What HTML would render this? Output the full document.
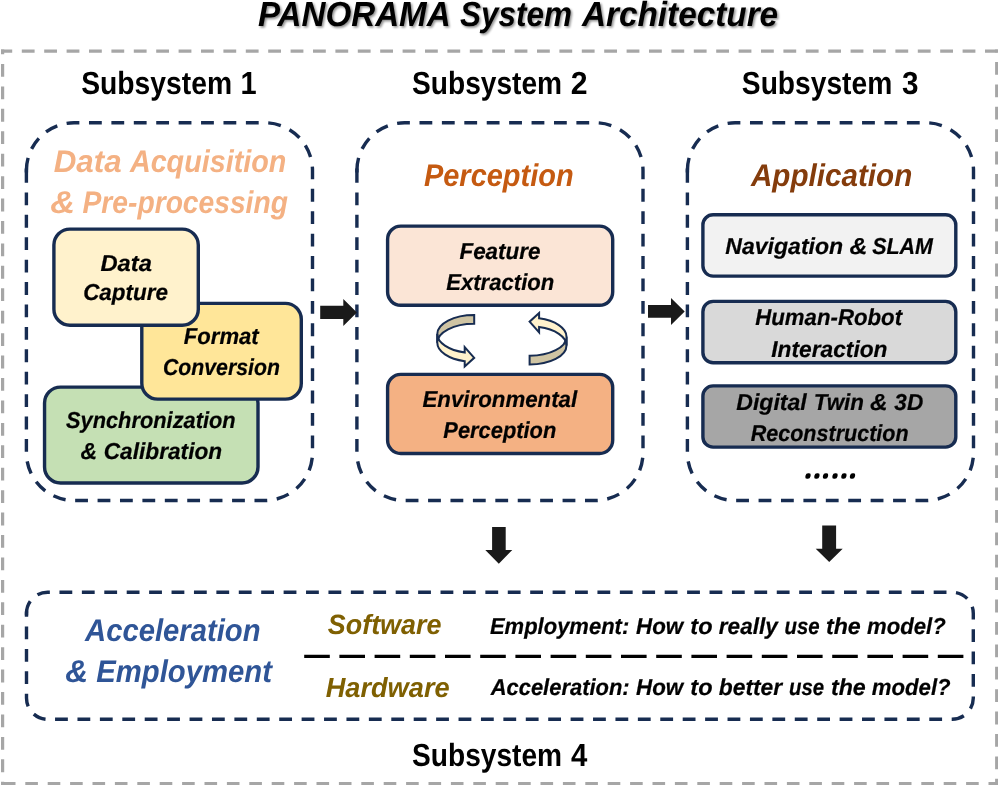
<!DOCTYPE html>
<html><head><meta charset="utf-8"><title>PANORAMA System Architecture</title>
<style>
html,body{margin:0;padding:0;background:#fff;}
body{width:998px;height:785px;overflow:hidden;font-family:"Liberation Sans",sans-serif;}
svg{display:block;}
text{font-family:"Liberation Sans",sans-serif;font-weight:bold;white-space:pre;text-rendering:geometricPrecision;}
</style></head><body>
<svg width="998" height="785" viewBox="0 0 998 785">
<defs><filter id="sh" x="-5%" y="-30%" width="110%" height="170%"><feDropShadow dx="1.6" dy="1.6" stdDeviation="1.3" flood-color="#000" flood-opacity="0.45"/></filter></defs>
<rect width="998" height="785" fill="#fff"/>
<line x1="1.0" y1="51.2" x2="999" y2="51.2" stroke="#a6a6a6" stroke-width="3.2" stroke-dasharray="12.8 9.60" stroke-dashoffset="1.60"/>
<line x1="1.0" y1="783.7" x2="999" y2="783.7" stroke="#a6a6a6" stroke-width="3.2" stroke-dasharray="12.6 9.80" stroke-dashoffset="20.50"/>
<line x1="2.6" y1="49.6" x2="2.6" y2="786" stroke="#a6a6a6" stroke-width="3.2" stroke-dasharray="12.8 9.63" stroke-dashoffset="8.03"/>
<line x1="996.7" y1="49.6" x2="996.7" y2="786" stroke="#a6a6a6" stroke-width="3.2" stroke-dasharray="12.8 9.60" stroke-dashoffset="10.00"/>
<path d="M26.40,170.48 A47.68,47.68 0 0 1 74.08,122.80 H264.82 A47.68,47.68 0 0 1 312.50,170.48 V452.82 A47.68,47.68 0 0 1 264.82,500.50 H74.08 A47.68,47.68 0 0 1 26.40,452.82 Z" fill="none" stroke="#172c51" stroke-width="3.4" stroke-dasharray="12.81 9.607"/><path d="M26.40,168.48 V172.48" fill="none" stroke="#172c51" stroke-width="3.4"/>
<path d="M356.90,170.48 A47.68,47.68 0 0 1 404.58,122.80 H595.32 A47.68,47.68 0 0 1 643.00,170.48 V452.82 A47.68,47.68 0 0 1 595.32,500.50 H404.58 A47.68,47.68 0 0 1 356.90,452.82 Z" fill="none" stroke="#172c51" stroke-width="3.4" stroke-dasharray="12.81 9.607"/><path d="M356.90,168.48 V172.48" fill="none" stroke="#172c51" stroke-width="3.4"/>
<path d="M687.40,170.48 A47.68,47.68 0 0 1 735.08,122.80 H925.82 A47.68,47.68 0 0 1 973.50,170.48 V452.82 A47.68,47.68 0 0 1 925.82,500.50 H735.08 A47.68,47.68 0 0 1 687.40,452.82 Z" fill="none" stroke="#172c51" stroke-width="3.4" stroke-dasharray="12.81 9.607"/><path d="M687.40,168.48 V172.48" fill="none" stroke="#172c51" stroke-width="3.4"/>
<path d="M26.50,613.38 A21.18,21.18 0 0 1 47.68,592.20 H952.12 A21.18,21.18 0 0 1 973.30,613.38 V698.12 A21.18,21.18 0 0 1 952.12,719.30 H47.68 A21.18,21.18 0 0 1 26.50,698.12 Z" fill="none" stroke="#172c51" stroke-width="3.4" stroke-dasharray="12.81 9.606"/><path d="M26.50,611.38 V615.38" fill="none" stroke="#172c51" stroke-width="3.4"/>
<path d="M44.55,403.08 A15.98,15.98 0 0 1 60.53,387.10 H242.02 A15.98,15.98 0 0 1 258.00,403.08 V467.02 A15.98,15.98 0 0 1 242.02,483.00 H60.53 A15.98,15.98 0 0 1 44.55,467.02 Z" fill="#c5e0b4" stroke="#172c51" stroke-width="3.4"/>
<path d="M141.80,319.35 A15.95,15.95 0 0 1 157.75,303.40 H285.35 A15.95,15.95 0 0 1 301.30,319.35 V383.15 A15.95,15.95 0 0 1 285.35,399.10 H157.75 A15.95,15.95 0 0 1 141.80,383.15 Z" fill="#ffe699" stroke="#172c51" stroke-width="3.4"/>
<path d="M53.90,245.12 A16.02,16.02 0 0 1 69.92,229.10 H182.28 A16.02,16.02 0 0 1 198.30,245.12 V309.18 A16.02,16.02 0 0 1 182.28,325.20 H69.92 A16.02,16.02 0 0 1 53.90,309.18 Z" fill="#fff2cc" stroke="#172c51" stroke-width="3.4"/>
<path d="M387.60,239.30 A13.20,13.20 0 0 1 400.80,226.10 H599.50 A13.20,13.20 0 0 1 612.70,239.30 V292.10 A13.20,13.20 0 0 1 599.50,305.30 H400.80 A13.20,13.20 0 0 1 387.60,292.10 Z" fill="#fbe5d6" stroke="#172c51" stroke-width="3.4"/>
<path d="M387.60,387.58 A13.18,13.18 0 0 1 400.78,374.40 H599.52 A13.18,13.18 0 0 1 612.70,387.58 V440.32 A13.18,13.18 0 0 1 599.52,453.50 H400.78 A13.18,13.18 0 0 1 387.60,440.32 Z" fill="#f4b183" stroke="#172c51" stroke-width="3.4"/>
<path d="M702.90,224.93 A10.23,10.23 0 0 1 713.13,214.70 H945.57 A10.23,10.23 0 0 1 955.80,224.93 V265.87 A10.23,10.23 0 0 1 945.57,276.10 H713.13 A10.23,10.23 0 0 1 702.90,265.87 Z" fill="#f2f2f2" stroke="#172c51" stroke-width="3.4"/>
<path d="M702.90,311.63 A10.23,10.23 0 0 1 713.13,301.40 H945.57 A10.23,10.23 0 0 1 955.80,311.63 V352.57 A10.23,10.23 0 0 1 945.57,362.80 H713.13 A10.23,10.23 0 0 1 702.90,352.57 Z" fill="#d9d9d9" stroke="#172c51" stroke-width="3.4"/>
<path d="M702.90,396.10 A10.20,10.20 0 0 1 713.10,385.90 H945.60 A10.20,10.20 0 0 1 955.80,396.10 V436.90 A10.20,10.20 0 0 1 945.60,447.10 H713.10 A10.20,10.20 0 0 1 702.90,436.90 Z" fill="#a6a6a6" stroke="#172c51" stroke-width="3.4"/>
<path d="M320.2,305.8 H343.3 V299.0 L356.9,312.45 L343.3,325.9 V318.9 H320.2 Z" fill="#1a1a1a"/>
<path d="M648.0,305.0 H671.0 V298.0 L684.7,311.5 L671.0,325.0 V317.8 H648.0 Z" fill="#1a1a1a"/>
<path d="M492.1,527.0 H505.7 V549.9 H512.3 L498.79999999999995,563.7 L485.3,549.9 H492.1 Z" fill="#1a1a1a"/>
<path d="M822.2,525.6 H836.1 V548.7 H842.7 L829.2,562.1 L815.7,548.7 H822.2 Z" fill="#1a1a1a"/>
<line x1="304.2" y1="656.3" x2="964" y2="656.3" stroke="#000" stroke-width="3.2" stroke-dasharray="25.6 9.6"/>
<g><path d="M474.2,315.00 A36.90,19.07 0 0 0 437.3,334.07 L437.3,342.77 A36.90,19.07 0 0 1 474.2,323.70 Z" fill="#cfc4a3" stroke="#172c51" stroke-width="2.0" stroke-linejoin="miter"/><path d="M437.3,334.07 A36.90,19.07 0 0 0 464.7,352.50 L464.7,347.15 L474.2,357.85 L464.7,366.55 L464.7,361.20 A36.90,19.07 0 0 1 437.3,342.77 Z" fill="#fff2cc" stroke="#172c51" stroke-width="2.0" stroke-linejoin="miter"/></g>
<g transform="translate(548.0 338.1) rotate(180) translate(-455.8 -341.4)"><path d="M474.2,315.00 A36.90,19.07 0 0 0 437.3,334.07 L437.3,342.77 A36.90,19.07 0 0 1 474.2,323.70 Z" fill="#cfc4a3" stroke="#172c51" stroke-width="2.0" stroke-linejoin="miter"/><path d="M437.3,334.07 A36.90,19.07 0 0 0 464.7,352.50 L464.7,347.15 L474.2,357.85 L464.7,366.55 L464.7,361.20 A36.90,19.07 0 0 1 437.3,342.77 Z" fill="#fff2cc" stroke="#172c51" stroke-width="2.0" stroke-linejoin="miter"/></g>
<g fill="#000"><rect x="805.45" y="473.25" width="5.1" height="5.5" rx="2.1" ry="2.3" transform="translate(808.00 476) skewX(-12) translate(-808.00 -476)"/><rect x="814.35" y="473.25" width="5.1" height="5.5" rx="2.1" ry="2.3" transform="translate(816.90 476) skewX(-12) translate(-816.90 -476)"/><rect x="822.95" y="473.25" width="5.1" height="5.5" rx="2.1" ry="2.3" transform="translate(825.50 476) skewX(-12) translate(-825.50 -476)"/><rect x="832.45" y="473.25" width="5.1" height="5.5" rx="2.1" ry="2.3" transform="translate(835.00 476) skewX(-12) translate(-835.00 -476)"/><rect x="841.35" y="473.25" width="5.1" height="5.5" rx="2.1" ry="2.3" transform="translate(843.90 476) skewX(-12) translate(-843.90 -476)"/><rect x="849.95" y="473.25" width="5.1" height="5.5" rx="2.1" ry="2.3" transform="translate(852.50 476) skewX(-12) translate(-852.50 -476)"/></g>
<g opacity="0.999">
<text transform="translate(257.98 26.40) scale(0.9489 1)" font-size="34.91" font-style="italic" fill="#000"  filter="url(#sh)">PANORAMA</text>
<text transform="translate(460.00 26.40) scale(0.9005 1)" font-size="34.91" font-style="italic" fill="#000"  filter="url(#sh)">System</text>
<text transform="translate(581.94 26.40) scale(0.9541 1)" font-size="34.91" font-style="italic" fill="#000"  filter="url(#sh)">Architecture</text>
<text transform="translate(81.16 93.90) scale(0.8842 1)" font-size="32.00" fill="#000" >Subsystem</text>
<text transform="translate(240.59 93.90) scale(0.9067 1)" font-size="32.00" fill="#000" >1</text>
<text transform="translate(412.06 93.90) scale(0.8789 1)" font-size="32.00" fill="#000" >Subsystem</text>
<text transform="translate(570.86 93.90) scale(0.9438 1)" font-size="32.00" fill="#000" >2</text>
<text transform="translate(741.86 93.90) scale(0.8807 1)" font-size="32.00" fill="#000" >Subsystem</text>
<text transform="translate(902.04 93.90) scale(0.9273 1)" font-size="32.00" fill="#000" >3</text>
<text transform="translate(412.06 766.10) scale(0.8789 1)" font-size="32.00" fill="#000" >Subsystem</text>
<text transform="translate(571.00 766.10) scale(0.9167 1)" font-size="32.00" fill="#000" >4</text>
<text transform="translate(53.71 171.60) scale(0.9966 1)" font-size="31.42" font-style="italic" fill="#f4b183" >Data</text>
<text transform="translate(129.90 171.60) scale(0.9146 1)" font-size="31.42" font-style="italic" fill="#f4b183" >Acquisition</text>
<text transform="translate(50.36 212.60) scale(1.0913 1)" font-size="31.42" font-style="italic" fill="#f4b183" >&amp;</text>
<text transform="translate(82.56 212.60) scale(0.8981 1)" font-size="31.42" font-style="italic" fill="#f4b183" >Pre-processing</text>
<text transform="translate(423.95 185.90) scale(0.9220 1)" font-size="31.42" font-style="italic" fill="#c55a11" >Perception</text>
<text transform="translate(750.93 185.90) scale(0.9438 1)" font-size="31.42" font-style="italic" fill="#843c0c" >Application</text>
<text transform="translate(100.43 270.55) scale(1.0331 1)" font-size="22.98" font-style="italic" fill="#000"  stroke="#000" stroke-width="0.213">Data</text>
<text transform="translate(83.15 300.40) scale(0.9767 1)" font-size="22.98" font-style="italic" fill="#000"  stroke="#000" stroke-width="0.225">Capture</text>
<text transform="translate(183.85 344.30) scale(0.9618 1)" font-size="22.98" font-style="italic" fill="#000"  stroke="#000" stroke-width="0.229">Format</text>
<text transform="translate(162.90 375.30) scale(0.9262 1)" font-size="22.98" font-style="italic" fill="#000"  stroke="#000" stroke-width="0.238">Conversion</text>
<text transform="translate(66.00 428.40) scale(0.9494 1)" font-size="22.98" font-style="italic" fill="#000"  stroke="#000" stroke-width="0.232">Synchronization</text>
<text transform="translate(80.44 459.20) scale(1.0012 1)" font-size="22.98" font-style="italic" fill="#000"  stroke="#000" stroke-width="0.220">&amp;</text>
<text transform="translate(103.74 459.20) scale(0.9873 1)" font-size="22.98" font-style="italic" fill="#000"  stroke="#000" stroke-width="0.223">Calibration</text>
<text transform="translate(459.45 259.00) scale(0.9758 1)" font-size="22.98" font-style="italic" fill="#000"  stroke="#000" stroke-width="0.225">Feature</text>
<text transform="translate(446.25 289.70) scale(0.9616 1)" font-size="22.98" font-style="italic" fill="#000"  stroke="#000" stroke-width="0.229">Extraction</text>
<text transform="translate(422.45 407.20) scale(0.9699 1)" font-size="22.98" font-style="italic" fill="#000"  stroke="#000" stroke-width="0.227">Environmental</text>
<text transform="translate(443.36 437.70) scale(0.9511 1)" font-size="22.98" font-style="italic" fill="#000"  stroke="#000" stroke-width="0.231">Perception</text>
<text transform="translate(725.24 254.20) scale(1.0046 1)" font-size="22.98" font-style="italic" fill="#000"  stroke="#000" stroke-width="0.219">Navigation</text>
<text transform="translate(849.41 254.20) scale(1.0741 1)" font-size="22.98" font-style="italic" fill="#000"  stroke="#000" stroke-width="0.205">&amp;</text>
<text transform="translate(872.20 254.20) scale(0.9344 1)" font-size="22.98" font-style="italic" fill="#000"  stroke="#000" stroke-width="0.235">SLAM</text>
<text transform="translate(755.25 325.40) scale(0.9671 1)" font-size="22.98" font-style="italic" fill="#000"  stroke="#000" stroke-width="0.227">Human-Robot</text>
<text transform="translate(771.24 356.60) scale(0.9900 1)" font-size="22.98" font-style="italic" fill="#000"  stroke="#000" stroke-width="0.222">Interaction</text>
<text transform="translate(736.24 409.80) scale(1.0042 1)" font-size="22.98" font-style="italic" fill="#000"  stroke="#000" stroke-width="0.219">Digital</text>
<text transform="translate(813.80 409.80) scale(0.9757 1)" font-size="22.98" font-style="italic" fill="#000"  stroke="#000" stroke-width="0.225">Twin</text>
<text transform="translate(869.92 409.80) scale(1.0609 1)" font-size="22.98" font-style="italic" fill="#000"  stroke="#000" stroke-width="0.207">&amp;</text>
<text transform="translate(894.30 409.80) scale(0.9848 1)" font-size="22.98" font-style="italic" fill="#000"  stroke="#000" stroke-width="0.223">3D</text>
<text transform="translate(750.66 440.60) scale(0.9377 1)" font-size="22.98" font-style="italic" fill="#000"  stroke="#000" stroke-width="0.235">Reconstruction</text>
<text transform="translate(85.11 640.60) scale(0.9308 1)" font-size="31.42" font-style="italic" fill="#2f5597" >Acceleration</text>
<text transform="translate(65.20 681.60) scale(1.0088 1)" font-size="31.42" font-style="italic" fill="#2f5597" >&amp;</text>
<text transform="translate(96.34 681.60) scale(0.9315 1)" font-size="31.42" font-style="italic" fill="#2f5597" >Employment</text>
<text transform="translate(327.80 634.20) scale(0.9688 1)" font-size="27.78" font-style="italic" fill="#7f6000" >Software</text>
<text transform="translate(325.67 696.80) scale(0.9793 1)" font-size="27.78" font-style="italic" fill="#7f6000" >Hardware</text>
<text transform="translate(489.96 633.60) scale(0.9572 1)" font-size="22.98" font-style="italic" fill="#000"  stroke="#000" stroke-width="0.230">Employment:</text>
<text transform="translate(636.05 633.60) scale(0.9725 1)" font-size="22.98" font-style="italic" fill="#000"  stroke="#000" stroke-width="0.226">How</text>
<text transform="translate(690.36 633.60) scale(1.0252 1)" font-size="22.98" font-style="italic" fill="#000"  stroke="#000" stroke-width="0.215">to</text>
<text transform="translate(718.85 633.60) scale(0.9799 1)" font-size="22.98" font-style="italic" fill="#000"  stroke="#000" stroke-width="0.225">really</text>
<text transform="translate(784.46 633.60) scale(0.8875 1)" font-size="22.98" font-style="italic" fill="#000"  stroke="#000" stroke-width="0.248">use</text>
<text transform="translate(825.97 633.60) scale(1.0096 1)" font-size="22.98" font-style="italic" fill="#000"  stroke="#000" stroke-width="0.218">the</text>
<text transform="translate(867.05 633.60) scale(0.9634 1)" font-size="22.98" font-style="italic" fill="#000"  stroke="#000" stroke-width="0.228">model?</text>
<text transform="translate(490.69 695.40) scale(0.9547 1)" font-size="22.98" font-style="italic" fill="#000"  stroke="#000" stroke-width="0.230">Acceleration:</text>
<text transform="translate(636.05 695.40) scale(0.9725 1)" font-size="22.98" font-style="italic" fill="#000"  stroke="#000" stroke-width="0.226">How</text>
<text transform="translate(690.36 695.40) scale(1.0252 1)" font-size="22.98" font-style="italic" fill="#000"  stroke="#000" stroke-width="0.215">to</text>
<text transform="translate(718.84 695.40) scale(0.9922 1)" font-size="22.98" font-style="italic" fill="#000"  stroke="#000" stroke-width="0.222">better</text>
<text transform="translate(788.96 695.40) scale(0.8875 1)" font-size="22.98" font-style="italic" fill="#000"  stroke="#000" stroke-width="0.248">use</text>
<text transform="translate(830.97 695.40) scale(1.0096 1)" font-size="22.98" font-style="italic" fill="#000"  stroke="#000" stroke-width="0.218">the</text>
<text transform="translate(871.85 695.40) scale(0.9646 1)" font-size="22.98" font-style="italic" fill="#000"  stroke="#000" stroke-width="0.228">model?</text>
</g>
</svg>
</body></html>
